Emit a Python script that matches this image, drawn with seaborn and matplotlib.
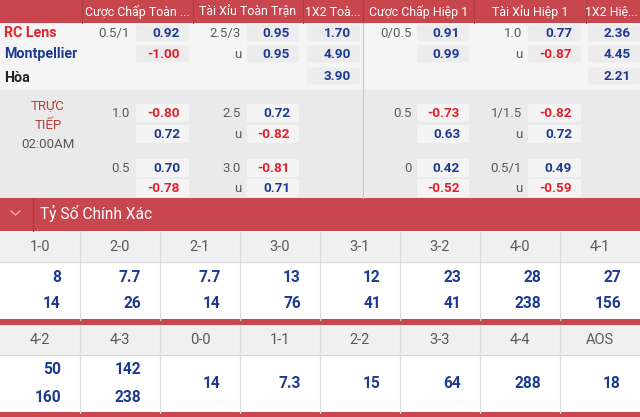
import matplotlib
matplotlib.use("Agg")
import matplotlib.pyplot as plt
from matplotlib.patches import Rectangle, FancyBboxPatch
import seaborn as sns

sns.set_theme(style="white")
plt.rcParams["font.family"] = ["Roboto", "DejaVu Sans"]

RED = "#c8464e"
RED_DARK = "#b23a42"
NAVY = "#1c3a91"
ODD_RED = "#e3202b"
GREY_TXT = "#5a5a5a"

# ---------------------------------------------------------------------------
# Data
# ---------------------------------------------------------------------------
headers = ["Cược Chấp Toàn ...", "Tài Xỉu Toàn Trận", "1X2 Toà...",
           "Cược Chấp Hiệp 1", "Tài Xỉu Hiệp 1", "1X2 Hiệ..."]
teams = ["RC Lens", "Montpellier", "Hòa"]
team_colors = ["#e0252d", "#1c3a91", "#222222"]

# pre-match odds
hdp_ft_line = ["0.5/1", ""]
hdp_ft_odds = [0.92, -1.00]
ou_ft_line = ["2.5/3", "u"]
ou_ft_odds = [0.95, 0.95]
x12_ft = [1.70, 4.90, 3.90]
hdp_h1_line = ["0/0.5", ""]
hdp_h1_odds = [0.91, 0.99]
ou_h1_line = ["1.0", "u"]
ou_h1_odds = [0.77, -0.87]
x12_h1 = [2.36, 4.45, 2.21]

# live odds
live_hdp_ft_line = ["1.0", "", "0.5", ""]
live_hdp_ft_odds = [-0.80, 0.72, 0.70, -0.78]
live_ou_ft_line = ["2.5", "u", "3.0", "u"]
live_ou_ft_odds = [0.72, -0.82, -0.81, 0.71]
live_hdp_h1_line = ["0.5", "", "0", ""]
live_hdp_h1_odds = [-0.73, 0.63, 0.42, -0.52]
live_ou_h1_line = ["1/1.5", "u", "0.5/1", "u"]
live_ou_h1_odds = [-0.82, 0.72, 0.49, -0.59]
live_label = ["TRỰC", "TIẾP", "02:00AM"]

# correct score
section_title = "Tỷ Số Chính Xác"
scores_1 = ["1-0", "2-0", "2-1", "3-0", "3-1", "3-2", "4-0", "4-1"]
home_1 = [8, 7.7, 7.7, 13, 12, 23, 28, 27]
away_1 = [14, 26, 14, 76, 41, 41, 238, 156]
scores_2 = ["4-2", "4-3", "0-0", "1-1", "2-2", "3-3", "4-4", "AOS"]
home_2 = [50, 142, 14, 7.3, 15, 64, 288, 18]
away_2 = [160, 238, None, None, None, None, None, None]

# ---------------------------------------------------------------------------
# Layout
# ---------------------------------------------------------------------------
W, H = 640, 417
col_edges = [82, 193, 303, 363, 474, 586, 640]
# (box_left, box_right, label_right) per odds column
box_cols = [(136, 189, 130), (247, 299, 241), (307, 360, None),
            (417, 469, 412), (528, 581, 522), (588, 640, None)]
pre_rows = [33, 54, 76]
live_rows = [113, 134, 168, 188]

fig = plt.figure(figsize=(6.4, 4.17), dpi=100)
ax = fig.add_axes([0, 0, 1, 1])
ax.set_xlim(0, W)
ax.set_ylim(H, 0)
ax.axis("off")


def rect(x0, y0, x1, y1, color, z=1):
    ax.add_patch(Rectangle((x0, y0), x1 - x0, y1 - y0, facecolor=color,
                           edgecolor="none", zorder=z))


def box(x0, x1, yc, color, hh=8.5):
    ax.add_patch(FancyBboxPatch((x0 + 1, yc - hh + 1), x1 - x0 - 2, 2 * hh - 2,
                                boxstyle="round,pad=1,rounding_size=2",
                                facecolor=color, edgecolor="none", zorder=2))


def odd_text(x, y, v):
    ax.text(x, y, f"{v:.2f}", ha="right", va="center", fontsize=9.7,
            fontweight="bold", color=ODD_RED if v < 0 else NAVY, zorder=3)


def line_text(x, y, s):
    if s:
        ax.text(x, y, s, ha="right", va="center", fontsize=9.5,
                color=GREY_TXT, zorder=3)


# header
rect(0, 0, W, 23, RED)
for e in col_edges[:-1]:
    ax.plot([e, e], [0, 23], color=RED_DARK, lw=0.8, zorder=2)
for i, h in enumerate(headers):
    xc = (col_edges[i] + col_edges[i + 1]) / 2
    if i == len(headers) - 1:
        xc -= 2
    ax.text(xc, 12, h, ha="center", va="center", fontsize=8.9,
            color="white", zorder=3)

# pre-match section
rect(0, 23, W, 90, "#f5f5f5")
rect(0, 90, W, 198, "#eaeaea")
ax.plot([363, 363], [23, 198], color="#c6c6c6", lw=0.8, zorder=2)

for i, t in enumerate(teams):
    ax.text(4, pre_rows[i] + (2 if i == 2 else 0), t, ha="left", va="center",
            fontsize=10.3, fontweight="bold", color=team_colors[i], zorder=3)

pre_lines = [hdp_ft_line, ou_ft_line, None, hdp_h1_line, ou_h1_line, None]
pre_odds = [hdp_ft_odds, ou_ft_odds, x12_ft, hdp_h1_odds, ou_h1_odds, x12_h1]
for (bl, br, lr), lines, odds in zip(box_cols, pre_lines, pre_odds):
    for r, v in enumerate(odds):
        y = pre_rows[r]
        box(bl, br, y, "#ececec")
        odd_text(br - 9, y, v)
        if lines is not None:
            line_text(lr, y, lines[r])

# live section
for k, s in enumerate(live_label):
    ax.text(48, 106 + 19 * k, s, ha="center", va="center", fontsize=9.5,
            color="#b5403a" if k < 2 else GREY_TXT, zorder=3)

live_lines = [live_hdp_ft_line, live_ou_ft_line, live_hdp_h1_line, live_ou_h1_line]
live_odds = [live_hdp_ft_odds, live_ou_ft_odds, live_hdp_h1_odds, live_ou_h1_odds]
for (bl, br, lr), lines, odds in zip([box_cols[0], box_cols[1], box_cols[3], box_cols[4]],
                                     live_lines, live_odds):
    for r, v in enumerate(odds):
        y = live_rows[r]
        box(bl, br, y, "#f4f4f4", hh=9)
        odd_text(br - 9, y, v)
        line_text(lr, y, lines[r])

# correct score band
rect(0, 198, W, 231, RED)
ax.plot([33, 33], [198, 231], color=RED_DARK, lw=1, zorder=2)
ax.plot([11, 15.5, 20], [211, 215, 211], color="#f0b8bb", lw=0.9, zorder=3)
ax.text(40, 213, section_title, ha="left", va="center", fontsize=11.2,
        color="white", zorder=3)


def score_block(y0, labels, top, bottom):
    rect(0, y0, W, y0 + 30, "#f0f0f0")
    rect(0, y0 + 30, W, y0 + 88, "white")
    ax.plot([0, W], [y0 + 30, y0 + 30], color="#d8d8d8", lw=0.8, zorder=2)
    for c in range(1, 8):
        ax.plot([80 * c, 80 * c], [y0, y0 + 88], color="#dadada", lw=0.9, zorder=2)
    for c, lab in enumerate(labels):
        ax.text(80 * c + 40, y0 + 15, lab, ha="center", va="center",
                fontsize=10.5, color=GREY_TXT, zorder=3)
        if bottom[c] is None:
            ax.text(80 * c + 61, y0 + 59, f"{top[c]:g}", ha="right", va="center",
                    fontsize=11.2, fontweight="bold", color=NAVY, zorder=3)
        else:
            ax.text(80 * c + 61, y0 + 45, f"{top[c]:g}", ha="right", va="center",
                    fontsize=11.2, fontweight="bold", color=NAVY, zorder=3)
            ax.text(80 * c + 61, y0 + 72, f"{bottom[c]:g}", ha="right", va="center",
                    fontsize=11.2, fontweight="bold", color=NAVY, zorder=3)


rect(0, 231, W, 232, "white")
score_block(232, scores_1, home_1, away_1)
rect(0, 319, W, 325, RED)
score_block(325, scores_2, home_2, away_2)
rect(0, 412, W, H, RED)

fig.savefig("out.png", dpi=100)
